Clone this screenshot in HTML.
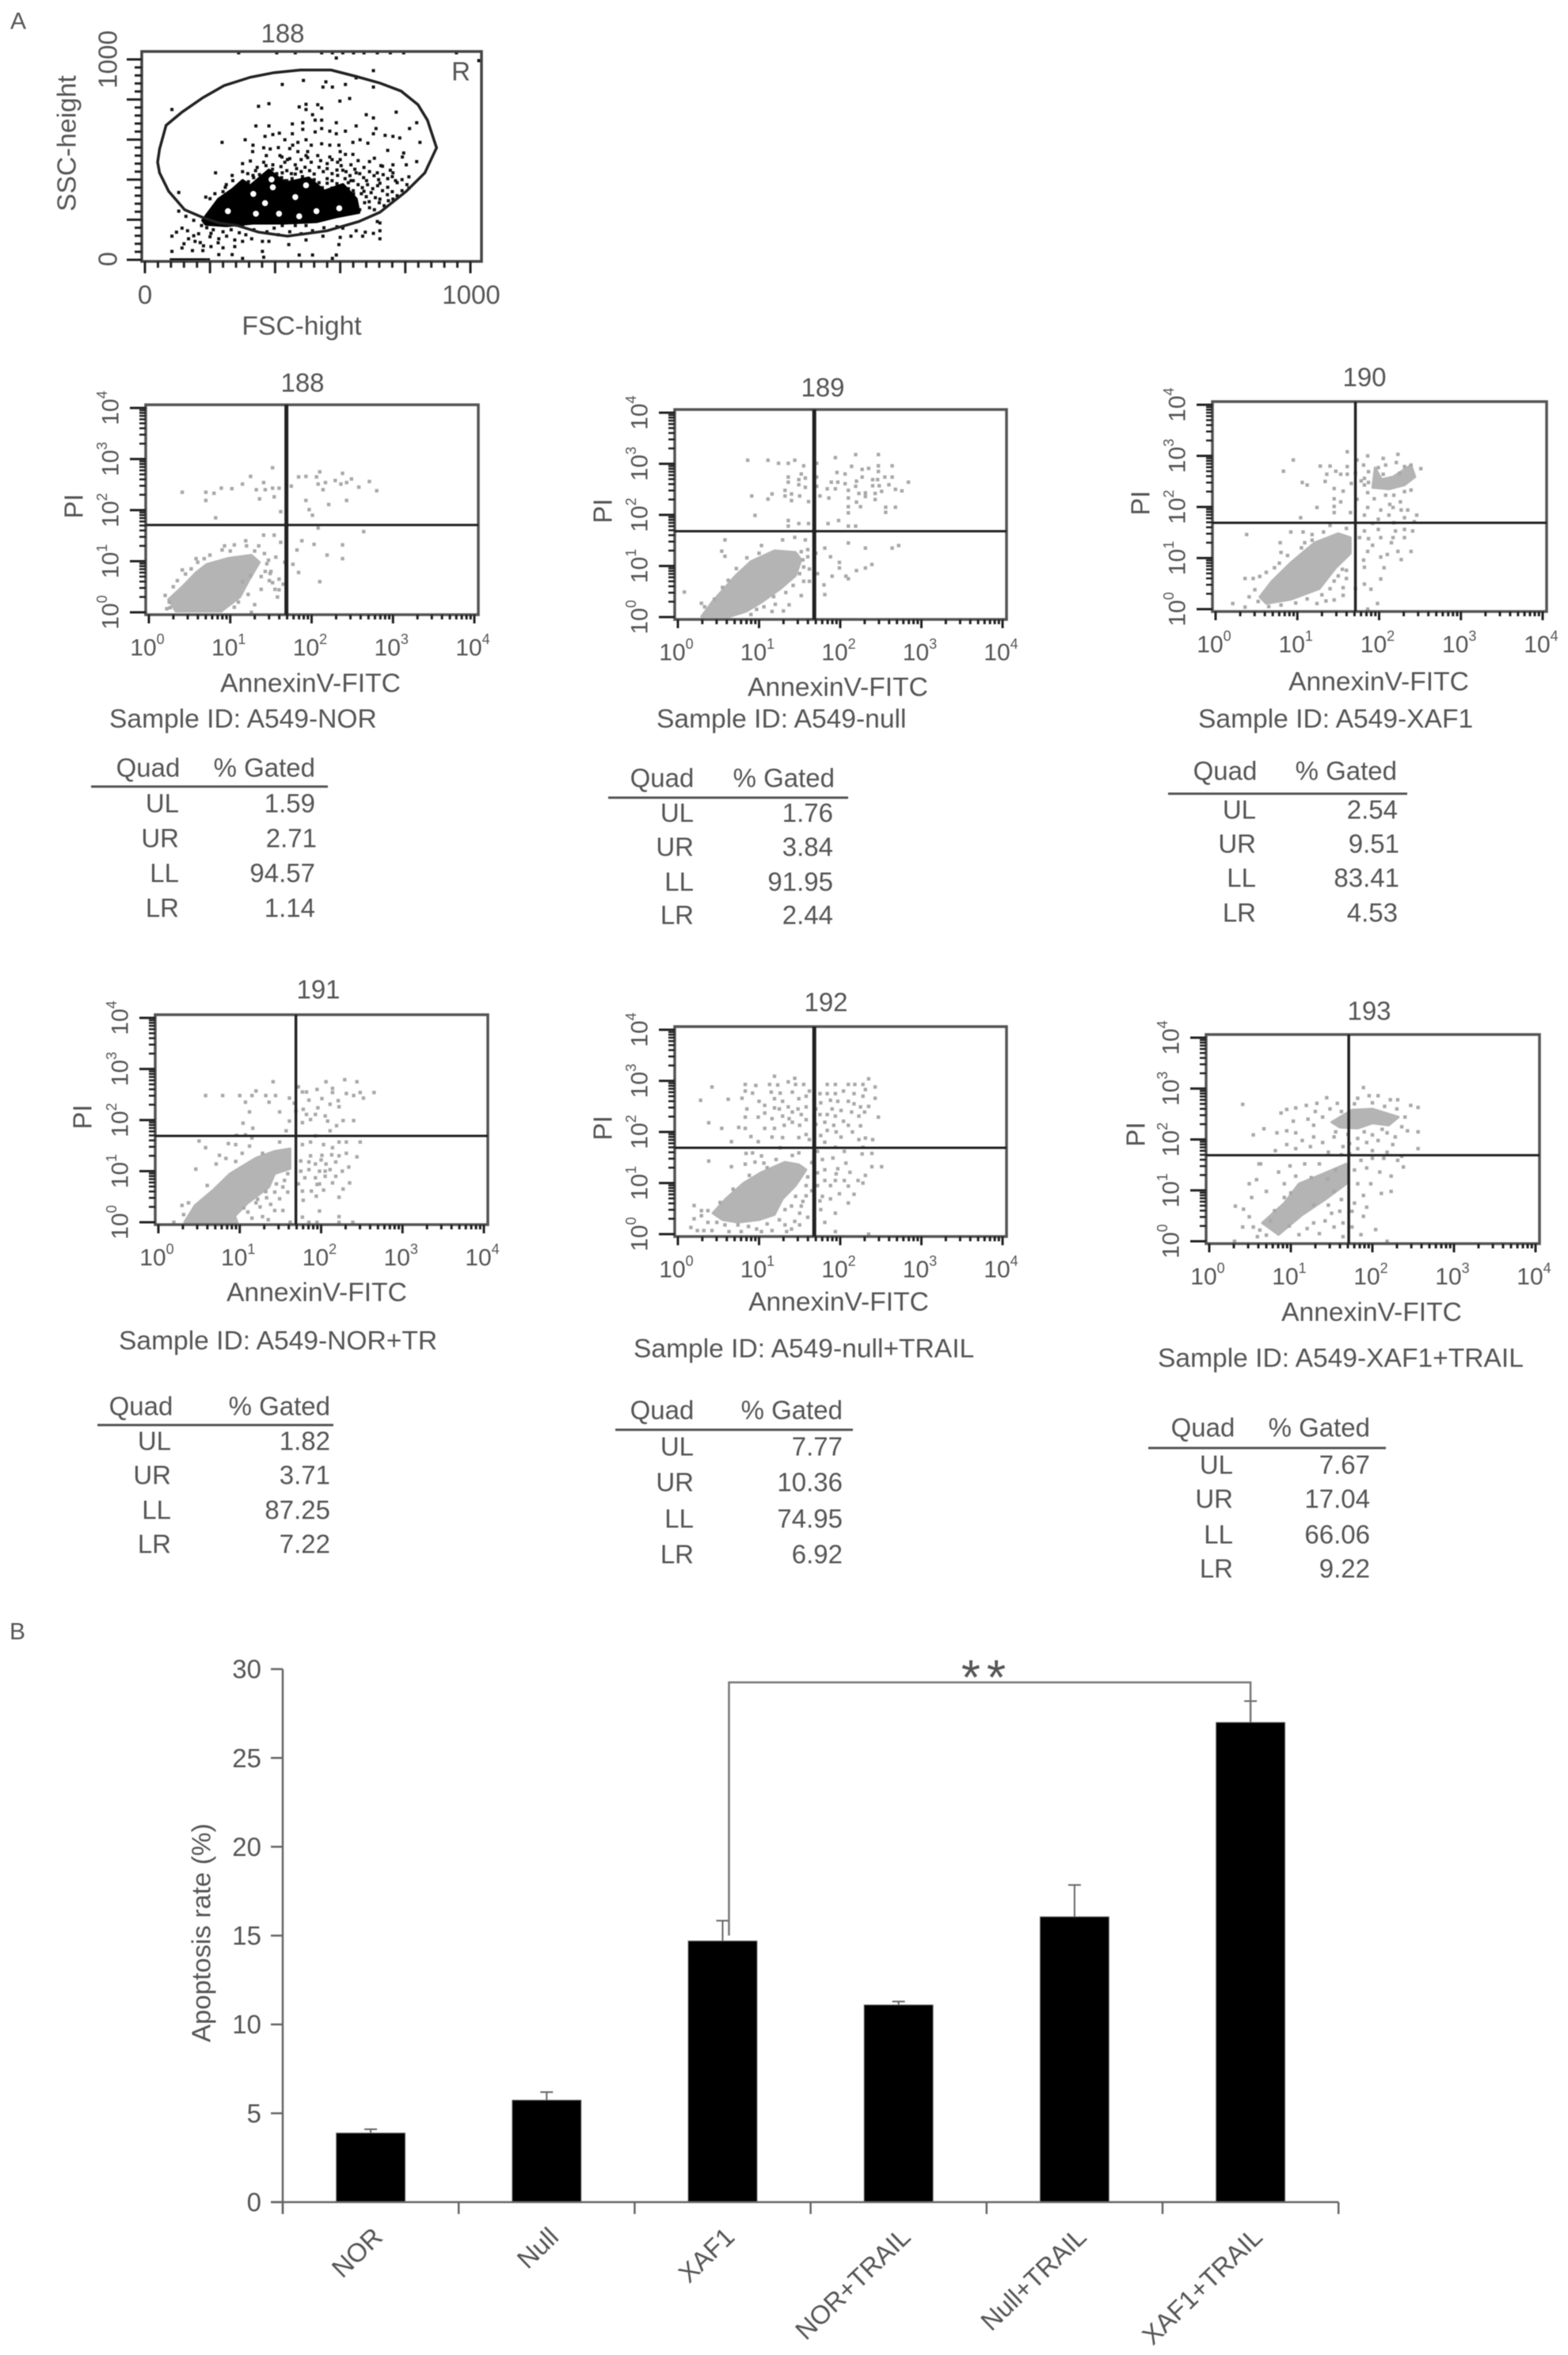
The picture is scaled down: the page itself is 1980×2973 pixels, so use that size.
<!DOCTYPE html>
<html lang="en">
<head>
<meta charset="utf-8">
<title>Flow cytometry apoptosis panels</title>
<style>
html,body{margin:0;padding:0;background:#fff;width:1980px;height:2973px;overflow:hidden}
#fig{display:block;filter:blur(0.6px)}
text{font-family:"Liberation Sans",sans-serif;fill:#555;font-size:33px;dominant-baseline:central}
.m{text-anchor:middle}.e{text-anchor:end}
.w{font-size:33.6px}
.rule{stroke:#555;stroke-width:3}
</style>
</head>
<body>
<svg id="fig" xmlns="http://www.w3.org/2000/svg" width="1980" height="2973" viewBox="0 0 1980 2973">
<rect width="1980" height="2973" fill="#fff"/>
<text x="23" y="27" class="m" style="font-size:30px">A</text>
<text x="22" y="2060" class="m" style="font-size:30px">B</text>

<g>
<text x="357" y="42" class="m">188</text>
<text x="582" y="90" class="m">R</text>
<text x="85" y="181" class="m w" transform="rotate(-90 85 181)">SSC-height</text>
<text x="381" y="412" class="m w">FSC-hight</text>
<text x="136" y="75" class="m" transform="rotate(-90 136 75)">1000</text>
<text x="136" y="327" class="m" transform="rotate(-90 136 327)">0</text>
<text x="183" y="372" class="m">0</text>
<text x="595" y="372" class="m">1000</text>
</g>

<g>
<text x="382" y="483" class="m">188</text>
<text x="93" y="639" class="m" transform="rotate(-90 93 639)">PI</text>
<text x="392" y="863" class="m w">AnnexinV-FITC</text>
<text x="138" y="908" class="w">Sample ID: A549-NOR</text>
<text x="187" y="969" class="m">Quad</text>
<text x="398" y="969" class="e">% Gated</text>
<line x1="115" x2="414" y1="993" y2="993" class="rule"/>
<text x="226" y="1014" class="e">UL</text><text x="398" y="1014" class="e">1.59</text>
<text x="226" y="1058" class="e">UR</text><text x="400" y="1058" class="e">2.71</text>
<text x="226" y="1102" class="e">LL</text><text x="398" y="1102" class="e">94.57</text>
<text x="226" y="1146" class="e">LR</text><text x="398" y="1146" class="e">1.14</text>
</g>

<g>
<text x="1039" y="489" class="m">189</text>
<text x="761" y="645" class="m" transform="rotate(-90 761 645)">PI</text>
<text x="1058" y="868" class="m w">AnnexinV-FITC</text>
<text x="829" y="908" class="w">Sample ID: A549-null</text>
<text x="836" y="982" class="m">Quad</text>
<text x="1054" y="982" class="e">% Gated</text>
<line x1="768" x2="1071" y1="1007" y2="1007" class="rule"/>
<text x="876" y="1026" class="e">UL</text><text x="1052" y="1026" class="e">1.76</text>
<text x="876" y="1069" class="e">UR</text><text x="1052" y="1069" class="e">3.84</text>
<text x="876" y="1113" class="e">LL</text><text x="1052" y="1113" class="e">91.95</text>
<text x="876" y="1155" class="e">LR</text><text x="1052" y="1155" class="e">2.44</text>
</g>

<g>
<text x="1723" y="476" class="m">190</text>
<text x="1440" y="635" class="m" transform="rotate(-90 1440 635)">PI</text>
<text x="1741" y="861" class="m w">AnnexinV-FITC</text>
<text x="1513" y="908" class="w">Sample ID: A549-XAF1</text>
<text x="1547" y="973" class="m">Quad</text>
<text x="1764" y="973" class="e">% Gated</text>
<line x1="1475" x2="1777" y1="1002" y2="1002" class="rule"/>
<text x="1586" y="1022" class="e">UL</text><text x="1765" y="1022" class="e">2.54</text>
<text x="1586" y="1065" class="e">UR</text><text x="1767" y="1065" class="e">9.51</text>
<text x="1586" y="1108" class="e">LL</text><text x="1767" y="1108" class="e">83.41</text>
<text x="1586" y="1152" class="e">LR</text><text x="1765" y="1152" class="e">4.53</text>
</g>

<g>
<text x="402" y="1249" class="m">191</text>
<text x="104" y="1410" class="m" transform="rotate(-90 104 1410)">PI</text>
<text x="400" y="1632" class="m w">AnnexinV-FITC</text>
<text x="150" y="1693" class="w">Sample ID: A549-NOR+TR</text>
<text x="178" y="1775" class="m">Quad</text>
<text x="417" y="1775" class="e">% Gated</text>
<line x1="123" x2="421" y1="1799" y2="1799" class="rule"/>
<text x="216" y="1819" class="e">UL</text><text x="417" y="1819" class="e">1.82</text>
<text x="216" y="1862" class="e">UR</text><text x="417" y="1862" class="e">3.71</text>
<text x="216" y="1906" class="e">LL</text><text x="417" y="1906" class="e">87.25</text>
<text x="216" y="1949" class="e">LR</text><text x="417" y="1949" class="e">7.22</text>
</g>

<g>
<text x="1043" y="1265" class="m">192</text>
<text x="761" y="1424" class="m" transform="rotate(-90 761 1424)">PI</text>
<text x="1059" y="1644" class="m w">AnnexinV-FITC</text>
<text x="800" y="1703" class="w">Sample ID: A549-null+TRAIL</text>
<text x="836" y="1780" class="m">Quad</text>
<text x="1064" y="1780" class="e">% Gated</text>
<line x1="777" x2="1077" y1="1805" y2="1805" class="rule"/>
<text x="876" y="1826" class="e">UL</text><text x="1064" y="1826" class="e">7.77</text>
<text x="876" y="1871" class="e">UR</text><text x="1064" y="1871" class="e">10.36</text>
<text x="876" y="1917" class="e">LL</text><text x="1064" y="1917" class="e">74.95</text>
<text x="876" y="1962" class="e">LR</text><text x="1064" y="1962" class="e">6.92</text>
</g>

<g>
<text x="1729" y="1276" class="m">193</text>
<text x="1434" y="1432" class="m" transform="rotate(-90 1434 1432)">PI</text>
<text x="1732" y="1657" class="m w">AnnexinV-FITC</text>
<text x="1462" y="1715" class="w">Sample ID: A549-XAF1+TRAIL</text>
<text x="1519" y="1802" class="m">Quad</text>
<text x="1730" y="1802" class="e">% Gated</text>
<line x1="1450" x2="1750" y1="1828" y2="1828" class="rule"/>
<text x="1557" y="1849" class="e">UL</text><text x="1730" y="1849" class="e">7.67</text>
<text x="1557" y="1892" class="e">UR</text><text x="1730" y="1892" class="e">17.04</text>
<text x="1557" y="1937" class="e">LL</text><text x="1730" y="1937" class="e">66.06</text>
<text x="1557" y="1980" class="e">LR</text><text x="1730" y="1980" class="e">9.22</text>
</g>

<g>
<text x="255" y="2440" class="m w" transform="rotate(-90 255 2440)">Apoptosis rate (%)</text>
<text id="stars" x="1246" y="2139" class="m" style="font-size:62px;letter-spacing:8px;dominant-baseline:auto">**</text>
</g>
</svg>

<script>
/* ---------- Bar chart values (panel B) ---------- */
const barCategories = ['NOR','Null','XAF1','NOR+TRAIL','Null+TRAIL','XAF1+TRAIL'];
const barValues = [3.89,5.74,14.7,11.1,16.06,27.0];
const barErrorTops = [4.10,6.19,15.84,11.29,17.85,28.2];
const barTicks = [0,5,10,15,20,25,30];
const bracketLevel = 29.25;
const bracketStartValue = 15.0;

/* ---------- Gate scatter (FSC, SSC channel values) ---------- */
const gateOutline = [[65,671],[114,737],[178,809],[243,869],[324,911],[397,934],[478,947],[572,947],[649,915],[722,882],[787,842],[839,774],[868,697],[896,559],[860,434],[803,342],[722,237],[657,191],[560,145],[438,118],[349,138],[284,171],[227,184],[178,211],[122,250],[73,342],[45,434],[39,487],[45,553]];
const gateDense = [[178,197],[227,303],[268,349],[300,395],[324,368],[381,447],[430,382],[503,408],[551,342],[608,375],[649,303],[657,237],[592,217],[527,191],[430,184],[332,184],[251,171],[187,178]];
const gateDenseGaps = [[255,243],[369,283],[412,230],[341,230],[527,243],[474,217],[597,257],[333,329],[462,313],[495,372],[389,401],[393,362]];
const gateEvents = [[288,1033],[405,1033],[462,1033],[543,1033],[576,1033],[608,1033],[641,1033],[673,1033],[714,1033],[754,1033],[795,1033],[957,1033],[588,1007],[1026,994],[702,944],[422,875],[487,895],[556,888],[547,862],[576,862],[616,875],[649,908],[702,862],[83,750],[349,766],[381,779],[474,763],[495,776],[495,750],[531,774],[543,757],[599,792],[629,805],[515,724],[680,724],[702,708],[772,737],[341,668],[381,668],[453,678],[485,684],[485,651],[523,697],[543,697],[588,684],[649,668],[835,684],[813,655],[710,655],[369,616],[393,625],[413,632],[430,599],[453,629],[523,638],[543,655],[568,642],[588,629],[616,642],[702,629],[738,621],[762,616],[783,608],[237,586],[308,599],[332,572],[331,540],[365,559],[385,553],[454,572],[470,586],[495,599],[511,572],[543,579],[568,572],[596,572],[639,586],[661,599],[685,582],[746,546],[795,533],[845,586],[373,520],[421,513],[438,500],[470,540],[495,520],[531,520],[568,513],[616,526],[639,526],[705,507],[791,513],[835,490],[803,474],[762,474],[300,480],[324,493],[345,461],[365,487],[393,474],[430,487],[462,474],[511,487],[560,480],[592,487],[633,474],[673,461],[730,467],[754,447],[217,434],[268,421],[332,421],[422,434],[462,428],[608,447],[649,434],[714,434],[762,434],[811,414],[770,395],[633,395],[681,395],[722,382],[746,362],[811,358],[762,303],[722,303],[689,290],[673,342],[641,329],[365,368],[560,382],[592,421],[430,395],[247,362],[104,336],[187,313],[104,243],[714,191],[722,184],[600,112],[633,118],[649,145],[677,138],[702,132],[722,145],[722,105],[669,118],[596,76],[547,118],[495,99],[442,76],[381,92],[361,92],[361,42],[474,24],[515,24],[588,24],[576,7],[83,118],[97,138],[114,158],[131,145],[126,217],[150,197],[174,171],[154,92],[134,105],[170,86],[203,132],[227,105],[251,118],[276,99],[300,92],[328,105],[203,66],[83,42],[114,59],[146,46],[178,46],[276,66],[227,26],[268,26],[300,7],[365,13],[349,184],[422,171],[462,171],[495,171],[535,197],[300,171],[608,158],[397,158],[81,0],[86,0],[92,0],[100,0],[106,0],[113,0],[120,0],[127,0],[134,0],[140,0],[147,0],[154,0],[160,0],[167,0],[173,0],[178,0],[185,0],[195,0]];
const gateEventsMid = [[300,440],[316,430],[340,445],[352,425],[372,470],[392,452],[405,430],[418,465],[436,445],[450,430],[466,455],[480,440],[492,462],[506,445],[520,428],[535,462],[548,440],[560,455],[575,430],[590,448],[603,470],[618,440],[630,420],[645,452],[660,430],[672,410],[690,440],[704,420],[718,400],[732,425],[746,405],[760,415],[775,385],[790,400],[805,375],[300,372],[318,390],[334,410],[350,400],[366,395],[420,410],[436,395],[452,405],[470,390],[484,415],[520,400],[535,385],[560,405],[575,395],[590,380],[615,405],[625,385],[640,395],[655,375],[668,360],[684,375],[700,355],[715,370],[730,345],[745,325],[760,340],[775,320],[790,345],[665,330],[680,315],[695,335],[708,310],[720,285],[735,270],[748,295],[690,260],[705,250],[675,285],[660,250],[640,345],[625,355],[610,335],[545,360],[560,345],[575,358],[590,340],[520,365],[505,350],[490,345],[420,370],[440,355],[455,345],[470,365],[350,365],[260,335],[240,340],[215,330],[200,305],[250,375],[280,360],[270,395],[415,520],[445,505],[480,500],[500,510],[540,495],[575,500],[600,500],[655,495],[690,490],[725,470],[500,540],[445,555],[600,540],[410,560],[165,130],[190,160],[210,150],[240,140],[265,150],[290,135],[310,125],[335,150],[375,140],[410,125],[445,140],[480,130],[515,145],[550,160],[590,165],[200,115],[225,85],[150,120],[180,70],[120,80],[240,60]];

/* ---------- Annexin V / PI plots: values are log10 decades ---------- */
const logTickExponents = [0,1,2,3,4];

const dense188 = [[.33,.02],[.24,.25],[.41,.5],[.58,.78],[.71,.94],[.98,1.06],[1.26,1.12],[1.36,.98],[1.22,.6],[1.12,.3],[.89,.02]];
const events188 = [[.41,2.35],[.7,2.35],[.7,2.19],[.8,2.33],[.89,2.43],[1.02,2.42],[1.15,2.51],[1.25,2.66],[1.32,2.4],[1.36,2.22],[1.41,2.54],[1.43,2.4],[1.52,2.83],[1.52,2.43],[1.54,2.26],[1.6,2.43],[1.62,1.97],[1.69,2.61],[1.75,2.47],[1.84,2.65],[1.93,2.66],[1.93,2.19],[1.97,2.01],[2.01,1.9],[2.06,2.65],[2.1,2.75],[2.08,2.51],[2.14,2.4],[2.17,2.54],[2.21,2.11],[2.29,2.58],[2.36,2.51],[2.38,2.72],[2.43,2.54],[2.43,2.19],[2.49,2.61],[2.58,2.45],[2.71,2.56],[2.8,2.38],[.82,1.85],[2.64,1.58],[2.08,1.65],[1.88,1.4],[2.03,1.33],[2.38,1.32],[2.19,1.12],[2.38,1.05],[1.82,1.22],[1.77,.94],[1.84,.78],[2.1,.6],[1.49,.76],[1.6,.44],[1.52,.58],[1.43,.8],[1.56,1.08],[1.54,1.51],[1.62,1.37],[1.41,1.51],[1.19,1.4],[.93,1.3],[.58,1.05],[.41,.83],[.2,.33],[.26,.09],[1.26,0],[1.67,.98],[.3,.5],[.25,.2],[.45,.75],[.6,.98],[.75,1.12],[.9,1.22],[1.05,1.32],[1.2,1.3],[1.3,1.2],[1.42,1.15],[1.45,.95],[1.38,.7],[1.48,.62],[1.55,.45],[1.22,.35],[1.3,.15],[1.05,.1],[1.15,.6],[1.25,.72],[1.38,.45],[1.5,.8],[1.58,.3],[.22,.07],[.35,.62],[.52,.85],[.68,1.05],[1,1.2],[1.6,.65],[1.35,1.3],[1.1,.2],[1.65,.55],[1.47,1.02]];

const dense189 = [[.42,.29],[.71,.81],[.9,1.09],[1.19,1.3],[1.45,1.27],[1.52,1.12],[1.45,.81],[1.26,.55],[1.03,.29],[.84,.11],[.64,.01],[.29,.01]];
const events189 = [[.86,3.07],[1.11,3.07],[1.24,3.01],[1.36,3.01],[1.44,3.07],[1.55,2.96],[1.71,3.01],[1.94,3.12],[2.19,3.18],[2.47,3.18],[2.64,2.96],[2.47,2.96],[2.35,2.91],[2.27,2.89],[2.14,2.95],[1.96,2.83],[2.06,2.8],[2.47,2.85],[2.55,2.74],[2.64,2.74],[2.84,2.64],[2.27,2.74],[2.2,2.66],[2.06,2.61],[1.97,2.64],[1.89,2.64],[2.4,2.69],[2.46,2.69],[2.4,2.57],[2.48,2.57],[2.6,2.59],[2.68,2.5],[2.76,2.47],[2.51,2.46],[2.19,2.56],[1.94,2.51],[1.84,2.51],[2.1,2.48],[2.23,2.42],[2.31,2.43],[2.43,2.42],[2.1,2.33],[1.86,2.33],[1.75,2.37],[2.43,2.3],[2.31,2.36],[2.2,2.25],[2.25,2.16],[2.1,2.16],[2.1,2.04],[2.56,2.15],[2.68,2.15],[2.56,2.05],[1.98,1.89],[1.85,1.83],[2.1,1.78],[2.19,1.78],[1.61,1.83],[1.49,1.83],[1.36,1.89],[1.36,1.78],[.95,1.99],[.91,2.37],[1.11,2.31],[1.16,2.41],[1.32,2.37],[1.32,2.48],[1.4,2.41],[1.4,2.28],[1.5,2.37],[1.61,2.26],[1.57,2.54],[1.49,2.59],[1.49,2.69],[1.57,2.72],[1.52,2.8],[1.36,2.74],[1.36,2.64],[1.71,2.74],[1.71,2.56],[2.1,1.45],[2.31,1.35],[2.64,1.35],[2.72,1.4],[1.81,1.35],[1.88,1.18],[1.99,1.07],[1.99,.96],[2.39,1.03],[2.31,.96],[2.2,.91],[2.07,.8],[2.1,.75],[1.9,.8],[1.8,.63],[1.81,.44],[.58,1.51],[.54,1.29],[.58,1.19],[.08,.49],[1.03,1.4],[1.29,1.51],[1.57,1.51],[1.44,1.56],[1.6,1.32],[1.54,1.12],[1.62,.94],[1.52,.42],[1.37,.24],[1.16,.11],[.29,.27],[.72,.95],[.85,1.16],[1.0,1.25],[1.52,1.28],[1.6,1.18],[1.55,.98],[1.5,.85],[1.55,.7],[1.42,.62],[1.33,.48],[1.18,.4],[1.06,.2],[.97,.15],[.9,.05],[.45,.35],[.33,.2],[.55,.58],[.62,.72],[1.2,.25],[1.3,.12],[1.62,.7],[1.68,1.05],[1.7,1.25],[1.72,.85]];

const dense190 = [[.54,.24],[.69,.55],[.92,.91],[1.21,1.3],[1.5,1.48],[1.65,1.4],[1.65,1.09],[1.47,.81],[1.27,.4],[.92,.19],[.62,.11]];
const denseUpper190 = [[1.92,2.38],[1.95,2.77],[2.03,2.54],[2.17,2.59],[2.39,2.82],[2.44,2.59],[2.31,2.43],[2.12,2.35]];
const events190 = [[1.61,3.08],[.95,2.92],[.83,2.7],[1.28,2.8],[1.4,2.8],[1.86,3],[1.73,2.92],[2.23,3.03],[2.05,2.95],[2.21,2.87],[2.39,2.82],[2.51,2.75],[1.47,2.7],[1.36,2.64],[1.34,2.5],[1.06,2.48],[1.12,2.43],[1.45,2.36],[1.56,2.31],[1.66,2.46],[1.61,2.79],[1.53,2.64],[1.61,2.64],[1.71,2.66],[1.82,2.56],[1.78,2.51],[1.87,2.48],[1.82,2.43],[1.81,2.82],[1.87,2.69],[1.99,2.77],[2.08,2.82],[2.05,2.64],[2.31,2.79],[2.25,2.66],[2.39,2.33],[2.31,2.3],[2.18,2.23],[2.08,2.23],[1.94,2.16],[1.86,2.28],[1.73,2.15],[1.45,2.16],[1.53,2.1],[1.24,1.99],[1.45,2.01],[1.45,1.89],[1.65,1.89],[1.86,1.99],[2.02,1.94],[2.13,2.05],[2.26,2.1],[2.17,1.99],[2.27,1.94],[2.35,1.94],[2.46,1.84],[1.82,1.84],[2.12,1.84],[1.99,1.76],[2.31,1.79],[1.04,1.79],[1.4,1.64],[.38,1.46],[.92,1.51],[1.07,1.51],[1.18,1.46],[1.32,1.51],[1.6,1.58],[.79,1.3],[1.09,1.3],[.8,1.11],[1.92,1.68],[2.18,1.69],[2.43,1.71],[2.41,1.53],[1.82,1.53],[1.99,1.56],[2.2,1.53],[2.31,1.56],[1.76,1.4],[1.87,1.38],[2.02,1.4],[2.17,1.4],[2.31,1.4],[1.92,1.25],[2.15,1.3],[2.23,1.13],[2.39,1.13],[1.86,1.13],[2.1,1.07],[2.02,1.02],[2.27,.97],[1.81,.96],[1.82,.82],[2.06,.81],[2.02,.59],[1.82,.49],[1.9,.39],[1.71,.4],[1.98,.11],[1.86,0],[1.56,.42],[1.56,.27],[1.45,.18],[1.35,.16],[1.6,.76],[1.5,.65],[.36,.6],[.46,.6],[.54,.64],[.41,.24],[.21,.11],[.36,.04],[.72,.81],[1.24,.11],[.62,.72],[.78,.9],[.88,1.05],[1.05,1.2],[1.18,1.35],[1.55,.78],[1.6,.6],[1.45,.55],[1.4,.4],[1.3,.28],[1.12,.2],[.98,.12],[.8,.08],[.65,.05],[.52,.15],[.48,.38]];

const dense191 = [[.32,0],[.45,.33],[.68,.64],[.88,.95],[1.2,1.26],[1.43,1.39],[1.62,1.44],[1.62,1.05],[1.43,.95],[1.36,.69],[1.1,.38],[.94,.12],[.97,0]];
const events191 = [[1.41,2.75],[.58,2.48],[.79,2.48],[1,2.48],[1.2,2.57],[1.15,2.48],[1.32,2.48],[1.44,2.48],[1.07,2.35],[1.36,2.35],[1.61,2.43],[1.67,2.33],[1.12,2.16],[1.49,2.16],[1.69,2.18],[1.04,1.94],[1.16,1.84],[1.61,1.98],[1.57,1.79],[.96,1.7],[1.07,1.71],[1.15,1.65],[1.72,2.65],[1.82,2.55],[1.77,2.55],[1.95,2.6],[1.85,2.39],[2.01,2.42],[2.14,2.54],[2.06,2.75],[2.29,2.79],[2.44,2.75],[2.14,2.62],[2.31,2.52],[2.4,2.48],[2.48,2.54],[2.52,2.43],[2.65,2.54],[2.21,2.38],[2.11,2.31],[2.22,2.26],[1.96,2.24],[1.78,2.21],[1.82,2.11],[1.93,2.11],[1.87,2.01],[2.05,2.08],[2.08,1.98],[2.27,1.99],[2.4,1.99],[2.19,1.89],[2.11,1.79],[1.77,1.95],[1.93,1.69],[.5,1.59],[.58,1.46],[.86,1.54],[.95,1.52],[1.12,1.49],[.75,1.31],[.83,1.25],[1.03,1.35],[.95,1.19],[.71,1.14],[.46,1.04],[1.28,1.35],[1.49,1.57],[1.77,1.52],[1.87,1.57],[2.03,1.52],[2.14,1.46],[2.22,1.57],[2.31,1.57],[2.48,1.57],[2.31,1.35],[2.44,1.28],[1.87,1.3],[2.01,1.31],[2.13,1.32],[2.22,1.3],[1.93,1.14],[2.06,1.14],[2.18,1.18],[2.34,1.08],[1.85,1.03],[1.98,1],[2.11,1.03],[2.26,1],[1.8,.87],[1.93,.87],[2.05,.9],[2.18,.9],[2.35,.77],[1.95,.74],[2.14,.77],[1.77,.61],[1.88,.61],[2.03,.63],[2.27,.65],[1.94,.51],[2.22,.49],[1.78,.43],[1.98,.22],[1.77,.1],[2.22,.11],[2.22,0],[2.39,0],[1.85,0],[1.95,0],[1.59,.95],[1.53,.69],[1.43,.59],[1.59,.59],[1.33,.48],[1.49,.46],[1.2,.38],[1.43,.23],[1.53,.23],[1.28,.11],[.29,.33],[.37,.38],[.31,.15],[.19,0],[.6,.72],[1.62,0],[1.32,.6],[1.45,.75],[1.55,.82],[1.25,.3],[1.38,.35],[1.1,.2],[1.15,.08],[1.35,.05],[1.05,.28],[1.22,.45],[1.75,1.0],[1.85,1.18],[1.75,1.2],[1.72,.75],[1.98,.75],[2.05,1.0],[2.0,1.22]];

const dense192 = [[.43,.41],[.59,.69],[.81,1],[1.03,1.21],[1.32,1.41],[1.49,1.36],[1.58,1.26],[1.45,.95],[1.29,.69],[1.19,.38],[1,.28],[.74,.23],[.55,.28]];
const events192 = [[1.19,3.09],[.42,2.88],[.28,2.62],[.62,2.64],[.79,2.66],[.38,2.18],[.54,2.07],[.75,2.09],[.83,2.07],[.83,2.93],[.96,2.91],[.83,2.8],[1.13,2.93],[1.23,2.92],[1.36,2.98],[1.44,3.05],[1.45,2.93],[1.55,2.93],[1.62,2.8],[1.84,2.93],[1.94,2.93],[2.1,2.93],[2.18,2.93],[2.28,2.93],[2.35,3.04],[2.43,2.88],[2.43,2.66],[2.31,2.83],[.92,2.76],[1.15,2.78],[1.26,2.76],[1.41,2.78],[1.49,2.65],[1.58,2.7],[1.19,2.65],[1.29,2.6],[1.07,2.52],[.85,2.45],[1.19,2.47],[1.36,2.49],[1.41,2.39],[1.07,2.37],[.83,2.29],[.99,2.29],[1.16,2.26],[1.29,2.31],[1.37,2.26],[1.52,2.34],[1.58,2.49],[1.58,2.24],[1.5,2.13],[1.07,2.07],[1.19,2.07],[1.31,2.13],[1.41,2.19],[.9,1.91],[1.16,1.9],[1.29,1.89],[1.49,1.89],[.66,1.81],[.99,1.81],[1.58,1.95],[1.62,1.85],[1.75,2.75],[1.84,2.75],[1.94,2.75],[2.04,2.8],[2.17,2.75],[2.28,2.7],[1.76,2.57],[1.88,2.62],[2.01,2.42],[1.97,2.6],[2.17,2.55],[2.25,2.49],[2.14,2.39],[2.3,2.39],[2.23,2.31],[2.47,2.29],[1.84,2.34],[1.75,2.34],[1.94,2.31],[1.81,2.19],[1.92,2.13],[2.04,2.21],[2.1,2.13],[2.25,2.12],[1.84,2.03],[2.01,1.9],[1.76,1.93],[2.31,1.88],[2.23,1.85],[2.4,1.85],[1.94,1.7],[1.81,1.8],[2.28,1.7],[1.26,1.69],[.84,1.58],[.92,1.59],[1.03,1.53],[.38,1.43],[.66,1.32],[.83,1.37],[.95,1.41],[1.21,1.46],[1.06,1.39],[1.41,1.54],[1.49,1.59],[2.27,1.57],[2.39,1.58],[2.39,1.32],[2.51,1.32],[1.78,1.46],[1.91,1.49],[2.07,1.39],[1.97,1.28],[1.81,1.26],[2.12,1.21],[2.31,1.15],[2.22,1.05],[1.94,1.05],[1.81,1.05],[2.1,.94],[2.28,1],[1.99,.79],[2.17,.78],[1.88,.69],[2.1,.61],[1.78,.74],[1.76,.48],[1.94,.41],[1.81,.23],[1.94,.05],[2.35,0],[1.58,.95],[1.54,.64],[1.45,.74],[1.5,.41],[1.6,.33],[1.44,.25],[1.32,.18],[1.32,.48],[1.16,.07],[.2,.56],[.29,.46],[.29,.36],[.2,.3],[.16,.13],[.24,.07],[.37,.46],[.37,.23],[.32,.07],[.48,.23],[.58,.18],[.42,.07],[.74,.18],[.87,.15],[.97,.1],[.63,.05],[1.34,.05],[.78,.05],[1.03,.05],[1.6,1.12],[1.65,.85],[1.52,.55],[1.4,.55],[1.25,.28],[1.1,.2],[1.4,.1],[1.5,.18],[1.58,.75],[1.65,1.4],[1.72,1.2],[1.72,.95],[1.75,.65],[1.88,.95],[1.95,1.18],[2.05,1.05],[.52,.62],[.68,.88],[.88,1.15],[1.1,1.3],[1.0,2.6],[1.25,2.45],[1.48,2.45],[1.7,2.45],[1.9,2.45],[2.1,2.6],[2.35,2.5],[1.7,2.15],[1.95,2.0],[2.15,2.0],[1.72,1.62],[2.05,1.62]];

const dense193 = [[.65,.36],[.92,.75],[1.1,1.13],[1.39,1.32],[1.68,1.52],[1.68,1.13],[1.42,.82],[1.14,.52],[.85,.13]];
const denseUpper193 = [[1.5,2.34],[1.75,2.58],[2,2.6],[2.32,2.44],[2.2,2.28],[2,2.32],[1.82,2.22],[1.6,2.24]];
const events193 = [[.41,2.69],[.54,2.09],[.67,2.21],[.49,1.13],[.58,1.21],[.61,1.52],[.32,.69],[.42,.63],[.52,.86],[.7,.98],[.49,.48],[.41,.28],[.54,.28],[.59,.09],[.31,0],[.88,2.52],[.95,2.59],[1.06,2.62],[1.19,2.67],[1.32,2.71],[1.44,2.82],[1.57,2.71],[1.03,2.36],[1.21,2.4],[.83,2.13],[.95,2.17],[1.06,2.13],[1.28,2.28],[1.39,2.44],[1.14,1.98],[1.28,2.05],[.81,1.78],[.95,1.9],[1.06,1.82],[1.24,1.86],[1.39,1.94],[1.53,2.05],[1.64,1.86],[1.46,1.75],[.63,1.52],[.85,1.36],[.99,1.48],[1.17,1.52],[1.35,1.52],[.92,1.13],[1.06,1.28],[.92,.86],[1.28,.71],[1.46,.71],[1.53,.98],[1.6,.59],[1.28,.36],[1.42,.4],[1.53,.28],[1.64,.36],[1.1,.13],[1.64,.09],[1.89,3.02],[1.82,2.81],[1.96,2.86],[2.07,2.86],[2.22,2.78],[2.31,2.78],[2.47,2.67],[2.56,2.63],[2.4,2.44],[2.36,2.25],[2.56,2.15],[2.43,2.17],[2.18,2.13],[2,2.09],[1.82,2.02],[1.93,1.94],[2.07,1.98],[2.25,1.9],[2.56,1.82],[1.82,1.82],[2,1.78],[2.18,1.75],[2.36,1.67],[1.86,1.59],[2,1.63],[2.14,1.63],[2.31,1.59],[2.38,1.46],[1.78,1.4],[1.93,1.44],[2.09,1.36],[2.23,1.28],[1.82,1.13],[1.98,1.13],[2.11,.94],[2.23,.98],[1.89,.9],[1.93,.67],[1.78,.75],[1.89,.49],[2.04,.23],[1.86,.13],[2.18,0],[1.75,.59],[1.75,.28],[.75,.4],[.62,.22],[.7,.12],[.98,.3],[1.2,.25],[1.35,.15],[1.5,.55],[1.62,.82],[1.55,1.4],[1.45,1.22],[1.25,1.25],[1.0,.95],[.8,.6],[1.3,2.55],[1.48,2.6],[1.62,2.55],[1.78,2.7],[2.0,2.72],[2.15,2.65],[2.3,2.6],[2.12,2.2],[1.9,2.15],[1.7,2.1],[1.55,2.15],[2.28,2.05],[1.72,1.92],[1.62,1.7],[1.72,1.72]];

/* Layout only (not data): frame rectangle for each plot and quadrant gate in decades */
const panels = [
 {id:'188',box:[184,511,604,776],gx:1.69,gy:1.71,vw:5,dense:[dense188],events:events188},
 {id:'189',box:[852,517,1271,782],gx:1.68,gy:1.68,vw:5,dense:[dense189],events:events189},
 {id:'190',box:[1531,507,1953,772],gx:1.71,gy:1.69,vw:3.5,dense:[dense190,denseUpper190],events:events190},
 {id:'191',box:[196,1281,616,1546],gx:1.69,gy:1.69,vw:3.5,dense:[dense191],events:events191},
 {id:'192',box:[852,1296,1271,1561],gx:1.68,gy:1.69,vw:5,dense:[dense192],events:events192},
 {id:'193',box:[1523,1306,1944,1570],gx:1.71,gy:1.69,vw:3.5,dense:[dense193,denseUpper193],events:events193}
];

const NS = 'http://www.w3.org/2000/svg';
const fig = document.getElementById('fig');
function mk(tag, attrs, parent){
  const el = document.createElementNS(NS, tag);
  for (const k in attrs) el.setAttribute(k, attrs[k]);
  (parent || fig).appendChild(el);
  return el;
}

/* ---------- log flow plots ---------- */
function drawFlow(p){
  const [l,t,r,b] = p.box;
  const xS = d => (l + 4) + d * (r - l - 9) / 4;
  const yS = d => (b - 3) - d * (b - t - 7) / 4;
  const g = mk('g', {});
  
  

  p.dense.forEach(poly => {
    const pg = mk('polygon', {points: poly.map(q => xS(q[0]) + ',' + yS(q[1])).join(' '), fill:'#b4b4b4', stroke:'#b4b4b4', 'stroke-width':3, 'stroke-linejoin':'round'}, g);
    
    
  });
  p.events.forEach(q => {
    const c = mk('rect', {x: xS(q[0]) - 2.2, y: yS(q[1]) - 2.2, width: 4.4, height: 4.4, fill:'#a8a8a8'}, g);
    
    
  });

  const frame = mk('rect', {x:l, y:t, width:r-l, height:b-t, fill:'none', stroke:'#555', 'stroke-width':3.5}, g);
  
  
  const qv = mk('line', {x1:xS(p.gx), x2:xS(p.gx), y1:t, y2:b, stroke:'#222', 'stroke-width':p.vw}, g);
  
  
  const qh = mk('line', {x1:l, x2:r, y1:yS(p.gy), y2:yS(p.gy), stroke:'#222', 'stroke-width':3}, g);
  
  

  logTickExponents.forEach(e => {
    const tx = mk('line', {x1:xS(e), x2:xS(e), y1:b, y2:b+11, stroke:'#222', 'stroke-width':3}, g);
    
    
    const ty = mk('line', {x1:l-20, x2:l, y1:yS(e), y2:yS(e), stroke:'#222', 'stroke-width':3}, g);
    
    

    const xl = mk('text', {x:xS(e) - 2, y:b + 42, 'text-anchor':'middle', style:'font-size:30px'}, g);
    
    
    xl.textContent = '10';
    const xs = mk('tspan', {dy:-11, style:'font-size:18px'}, xl);
    xs.textContent = String(e);

    const yl = mk('text', {x:l-44, y:yS(e), 'text-anchor':'middle', transform:'rotate(-90 ' + (l-44) + ' ' + yS(e) + ')', style:'font-size:30px'}, g);
    
    
    yl.textContent = '10';
    const ys = mk('tspan', {dy:-11, style:'font-size:18px'}, yl);
    ys.textContent = String(e);

    if (e < 4) for (let m = 2; m <= 9; m++) {
      const d = e + Math.log10(m);
      const mx = mk('line', {x1:xS(d), x2:xS(d), y1:b, y2:b+6, stroke:'#222', 'stroke-width':3}, g);
      
      
      const my = mk('line', {x1:l-8, x2:l, y1:yS(d), y2:yS(d), stroke:'#222', 'stroke-width':2.5}, g);
      
      
    }
  });
}
panels.forEach(drawFlow);

/* ---------- gate scatter ---------- */
(function(){
  const xT = v => 183 + v * 0.411;
  const yT = v => 328 - v * 0.253;
  const g = mk('g', {});
  
  
  gateEvents.concat(gateEventsMid).forEach(q => {
    const d = mk('rect', {x:xT(q[0])-2, y:yT(q[1])-2, width:4, height:4, fill:'#111'}, g);
    
    
  });
  const dn = mk('polygon', {points:gateDense.map(q => xT(q[0]) + ',' + yT(q[1])).join(' '), fill:'#000', stroke:'#000', 'stroke-width':4, 'stroke-linejoin':'round'}, g);
  
  
  gateDenseGaps.forEach(q => {
    const h = mk('circle', {cx:xT(q[0]), cy:yT(q[1]), r:3.8, fill:'#fff'}, g);
    
    
  });
  const gate = mk('polygon', {points:gateOutline.map(q => xT(q[0]) + ',' + yT(q[1])).join(' '), fill:'none', stroke:'#222', 'stroke-width':3.5}, g);
  
  
  const frame = mk('rect', {x:179, y:65, width:429, height:265, fill:'none', stroke:'#444', 'stroke-width':3.5}, g);
  
  
  for (let i = 0; i <= 25; i++) {
    const v = i * 40, major = i % 5 === 0;
    const ty = mk('line', {x1:major ? 160 : 170, x2:179, y1:yT(v), y2:yT(v), stroke:'#222', 'stroke-width':3}, g);
    
    
    const tx = mk('line', {x1:xT(v), x2:xT(v), y1:330, y2:major ? 345 : 338, stroke:'#222', 'stroke-width':3}, g);
    
    
  }
})();

/* ---------- bar chart ---------- */
(function(){
  const X0 = 357, BAND = 222.2, Y0 = 2780, UNIT = 22.43;
  const xB = i => X0 + (i + .5) * BAND;
  const yB = v => Y0 - v * UNIT;
  const AXIS = '#666';
  const g = mk('g', {});
  
  

  barValues.forEach((v, i) => {
    const e = mk('line', {x1:xB(i), x2:xB(i), y1:yB(barErrorTops[i]), y2:yB(v), stroke:AXIS, 'stroke-width':2}, g);
    
    
    const c = mk('line', {x1:xB(i)-8, x2:xB(i)+8, y1:yB(barErrorTops[i]), y2:yB(barErrorTops[i]), stroke:AXIS, 'stroke-width':2}, g);
    
    
    const r = mk('rect', {x:xB(i)-43.5, y:yB(v), width:87, height:yB(0)-yB(v), fill:'#000', stroke:'#777', 'stroke-width':1}, g);
    
    
    const lab = mk('text', {x:xB(i)+9, y:2818, 'text-anchor':'end', transform:'rotate(-44 ' + (xB(i)+9) + ' 2818)', style:'font-size:33px'}, g);
    
    
    lab.textContent = barCategories[i];
  });

  const ya = mk('line', {x1:X0, x2:X0, y1:yB(30), y2:Y0+15, stroke:AXIS, 'stroke-width':2.5}, g);
  
  
  const xa = mk('line', {x1:X0-15, x2:X0+BAND*barCategories.length, y1:Y0, y2:Y0, stroke:AXIS, 'stroke-width':2.5}, g);
  
  

  barTicks.forEach(v => {
    const t = mk('line', {x1:X0-15, x2:X0, y1:yB(v), y2:yB(v), stroke:AXIS, 'stroke-width':2.5}, g);
    
    
    const l = mk('text', {x:330, y:yB(v), 'text-anchor':'end'}, g);
    
    
    l.textContent = String(v);
  });
  for (let i = 0; i <= barCategories.length; i++) {
    const t = mk('line', {x1:X0+i*BAND, x2:X0+i*BAND, y1:Y0, y2:Y0+15, stroke:AXIS, 'stroke-width':2.5}, g);
    
    
  }

  const last = barCategories.length - 1;
  const br = mk('polyline', {points:[[xB(2)+8,yB(bracketStartValue)],[xB(2)+8,yB(bracketLevel)],[xB(last),yB(bracketLevel)],[xB(last),yB(barValues[last])]].map(q => q.join(',')).join(' '), fill:'none', stroke:'#777', 'stroke-width':2.5}, g);
  
  
})();
</script>
</body>
</html>
